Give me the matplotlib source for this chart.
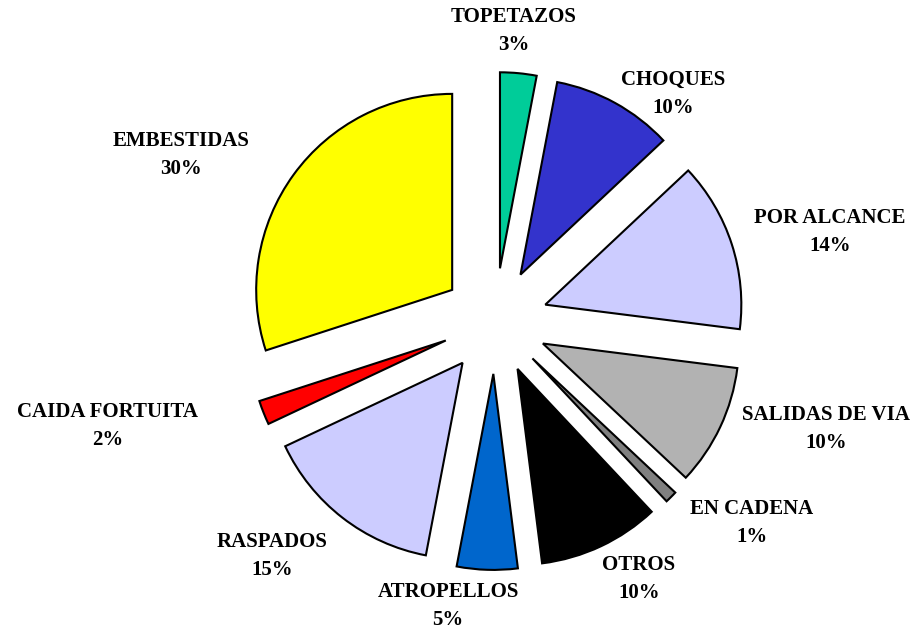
import matplotlib.pyplot as plt

# datos del grafico (sentido horario desde arriba)
categorias = ['TOPETAZOS', 'CHOQUES', 'POR ALCANCE', 'SALIDAS DE VIA', 'EN CADENA',
              'OTROS', 'ATROPELLOS', 'RASPADOS', 'CAIDA FORTUITA', 'EMBESTIDAS']
porcentajes = [3, 10, 14, 10, 1, 10, 5, 15, 2, 30]
colores = ['#00CC99', '#3333CC', '#CCCCFF', '#B2B2B2', '#808080',
           '#000000', '#0066CC', '#CCCCFF', '#FF0000', '#FFFF00']
# posicion de las etiquetas en pixeles (x, y desde arriba)
pos_etiquetas = [(514, 31), (673, 94), (830, 232), (826, 429), (752, 523),
                 (639, 579), (448, 606), (272, 556), (108, 426), (181, 155)]

W, H = 917, 631
escala = 196.0  # radio de la torta en pixeles

fig = plt.figure(figsize=(W / 100, H / 100), dpi=100)
ax = fig.add_axes([0, 0, 1, 1])

ax.pie(porcentajes, colors=colores, startangle=90, counterclock=False,
       explode=[0.27] * len(porcentajes), radius=1.0,
       center=(495 / escala, (H - 321) / escala),
       wedgeprops=dict(edgecolor='black', linewidth=1.5), frame=True)
ax.set_xlim(0, W / escala)
ax.set_ylim(0, H / escala)
ax.set_aspect('equal')
ax.axis('off')

for cat, p, (px, py) in zip(categorias, porcentajes, pos_etiquetas):
    ax.text(px / escala, (H - py) / escala, f'{cat}\n{p}%', ha='center', va='center',
            fontsize=15, fontweight='bold', family='Liberation Serif', linespacing=1.5)

fig.savefig('out.png', dpi=100)
